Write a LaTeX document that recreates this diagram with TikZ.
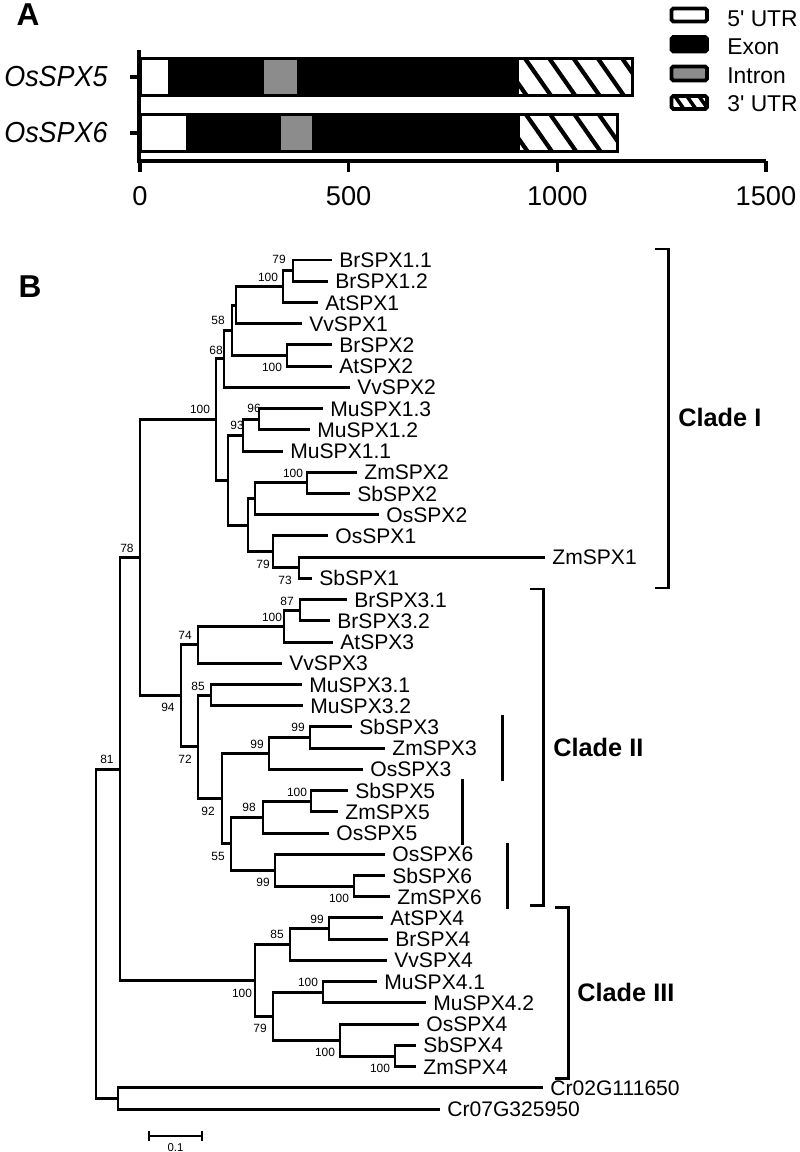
\documentclass[tikz,border=0pt]{standalone}
\usepackage{fontspec}
\setmainfont{Liberation Sans}
\begin{document}
\begin{tikzpicture}[x=0.02cm,y=-0.02cm,
    br/.style={line width=1.7pt},
    ax/.style={line width=1.8pt},
    barbox/.style={line width=1.7pt},
    stripe/.style={line width=2.4pt},
    legbox/.style={line width=2.2pt,rounded corners=1pt},
    leaf/.style={anchor=west,inner xsep=4pt,inner ysep=0pt,text height=8.6pt,text depth=0pt,font=\fontsize{12}{12}\selectfont},
    boot/.style={inner sep=0pt,font=\fontsize{6.8}{7}\selectfont},
    clade/.style={anchor=west,inner sep=0pt,font=\fontsize{14.4}{15}\selectfont\bfseries},
    panel/.style={inner sep=0pt,font=\fontsize{18}{18}\selectfont\bfseries},
    tick/.style={inner sep=0pt,font=\fontsize{15.5}{16}\selectfont},
    gene/.style={anchor=east,inner sep=0pt,xscale=0.93,font=\fontsize{16.5}{17}\selectfont\itshape},
    leg/.style={anchor=west,inner sep=0pt,font=\fontsize{13}{13}\selectfont}]
\useasboundingbox (0,0) rectangle (800,1152);

% panel A: gene structure
\node[panel] (pA) at (28,15) {A};
\draw[ax] (139,50) -- (139,161) -- (766,161);
\foreach \v in {0,500,1000,1500} {
    \draw[ax] ({140+0.4173*\v},161) -- ++(0,11);
    \node[tick] (t\v) at ({140+0.4173*\v},196) {\v};
}
\draw[ax] (130,77) -- (139,77);
\draw[ax] (130,133) -- (139,133);
\node[gene] (g5) at (108,77) {OsSPX5};
\node[gene] (g6) at (108,133) {OsSPX6};

% OsSPX5
\fill[black] (141,58.5) rectangle (632,95.5);
\fill[white] (141,58.5) rectangle (168,95.5);
\fill[black!45] (264,58.5) rectangle (297,95.5);
\begin{scope}
    \clip (519,58.5) rectangle (632,95.5);
    \fill[white] (519,58.5) rectangle (632,95.5);
    \foreach \s in {-1,...,5}
        \draw[stripe] ({525+24.3*\s},58.5) ++(-7,-10) -- ++(35,50);
\end{scope}
\draw[barbox] (141,58.5) rectangle (632,95.5);

% OsSPX6
\fill[black] (141,114.5) rectangle (617,151.5);
\fill[white] (141,114.5) rectangle (186,151.5);
\fill[black!45] (281,114.5) rectangle (312,151.5);
\begin{scope}
    \clip (520,114.5) rectangle (617,151.5);
    \fill[white] (520,114.5) rectangle (617,151.5);
    \foreach \s in {-1,...,4}
        \draw[stripe] ({526+24.3*\s},114.5) ++(-7,-10) -- ++(35,50);
\end{scope}
\draw[barbox] (141,114.5) rectangle (617,151.5);

% legend
\draw[legbox,fill=white] (671.5,8.5) rectangle (707,21.5);
\draw[legbox,fill=black] (671.5,37) rectangle (707,51.5);
\draw[legbox,fill=black!45] (671.5,66.5) rectangle (707,80.5);
\begin{scope}
    \clip (671.5,96) rectangle (707,109);
    \foreach \s in {0,...,2}
        \draw[line width=2pt] ({676+12*\s},96) ++(-4,-4) -- ++(14,20);
\end{scope}
\draw[legbox] (671.5,96) rectangle (707,109);
\node[leg] (l1) at (727,18.5) {5\textquotesingle{} UTR};
\node[leg] (l2) at (727,47) {Exon};
\node[leg] (l3) at (727,75.5) {Intron};
\node[leg] (l4) at (727,104) {3\textquotesingle{} UTR};

% panel B: tree
\node[panel] (pB) at (30,287) {B};

\foreach \nm/\tip/\lab [count=\i from 0] in {
    br11/332/BrSPX1.1, br12/328/BrSPX1.2, at1/318/AtSPX1, vv1/302/VvSPX1,
    br2/332/BrSPX2, at2/332/AtSPX2, vv2/350/VvSPX2,
    mu13/323/MuSPX1.3, mu12/310/MuSPX1.2, mu11/283/MuSPX1.1,
    zm2/357/ZmSPX2, sb2/350/SbSPX2, os2/379/OsSPX2, os1/328/OsSPX1,
    zm1/545/ZmSPX1, sb1/312/SbSPX1,
    br31/347/BrSPX3.1, br32/330/BrSPX3.2, at3/333/AtSPX3, vv3/282/VvSPX3,
    mu31/302/MuSPX3.1, mu32/303/MuSPX3.2,
    sb3/352/SbSPX3, zm3/385/ZmSPX3, os3/363/OsSPX3,
    sb5/348/SbSPX5, zm5/338/ZmSPX5, os5/329/OsSPX5,
    os6/385/OsSPX6, sb6/385/SbSPX6, zm6/390/ZmSPX6,
    at4/383/AtSPX4, br4/388/BrSPX4, vv4/387/VvSPX4,
    mu41/377/MuSPX4.1, mu42/426/MuSPX4.2,
    os4/419/OsSPX4, sb4/416/SbSPX4, zm4/416/ZmSPX4,
    cr2/543/Cr02G111650, cr7/440/Cr07G325950}
    \node[leaf] (\nm) at (\tip,{260+21.225*\i}) {\lab};

% internal nodes, clade I
\coordinate (n1) at (293,270.6);
\coordinate (n2) at (283,286.6);
\coordinate (n3) at (236,305.1);
\coordinate (n4) at (287,355.5);
\coordinate (n5) at (232,330.3);
\coordinate (n6) at (224,358.9);
\coordinate (n7) at (259,419.2);
\coordinate (n8) at (243,435.1);
\coordinate (n9) at (307,482.9);
\coordinate (n10) at (255,498.8);
\coordinate (n11) at (299,567.8);
\coordinate (n12) at (273,551.9);
\coordinate (n13) at (248,525.4);
\coordinate (n14) at (228,480.3);
\coordinate (n15) at (216,419.6);
% clade II
\coordinate (m1) at (300,610.2);
\coordinate (m2) at (284,626.2);
\coordinate (m3) at (198,644.8);
\coordinate (m4) at (211,695.1);
\coordinate (m5) at (310,737.6);
\coordinate (m6) at (269,753.5);
\coordinate (m7) at (311,801.3);
\coordinate (m8) at (263,817.2);
\coordinate (m9) at (354,886.2);
\coordinate (m10) at (275,870.3);
\coordinate (m11) at (231,843.8);
\coordinate (m12) at (222,798.7);
\coordinate (m13) at (198,746.9);
\coordinate (m14) at (181,695.9);
% clade III
\coordinate (k1) at (329,928.6);
\coordinate (k2) at (290,944.5);
\coordinate (k3) at (323,992.3);
\coordinate (k4) at (395,1056.0);
\coordinate (k5) at (340,1040.1);
\coordinate (k6) at (273,1016.2);
\coordinate (k7) at (255,980.4);
% backbone
\coordinate (c78) at (140,557.8);
\coordinate (c81) at (120,769.1);
\coordinate (og) at (118,1098.4);
\coordinate (root) at (96,933.8);

\foreach \p/\c in {n1/br11, n1/br12, n2/n1, n2/at1, n3/n2, n3/vv1,
    n4/br2, n4/at2, n5/n3, n5/n4, n6/n5, n6/vv2,
    n7/mu13, n7/mu12, n8/n7, n8/mu11, n9/zm2, n9/sb2, n10/n9, n10/os2,
    n11/zm1, n11/sb1, n12/os1, n12/n11, n13/n10, n13/n12,
    n14/n8, n14/n13, n15/n6, n15/n14,
    m1/br31, m1/br32, m2/m1, m2/at3, m3/m2, m3/vv3, m4/mu31, m4/mu32,
    m5/sb3, m5/zm3, m6/m5, m6/os3, m7/sb5, m7/zm5, m8/m7, m8/os5,
    m9/sb6, m9/zm6, m10/os6, m10/m9, m11/m8, m11/m10, m12/m6, m12/m11,
    m13/m4, m13/m12, m14/m3, m14/m13,
    k1/at4, k1/br4, k2/k1, k2/vv4, k3/mu41, k3/mu42, k4/sb4, k4/zm4,
    k5/os4, k5/k4, k6/k3, k6/k5, k7/k2, k7/k6,
    c78/n15, c78/m14, c81/c78, c81/k7, og/cr2, og/cr7, root/c81, root/og}
    \draw[br] (\p) |- (\c);

% bootstrap values
\foreach \x/\y/\v [count=\j] in {
    279/259/79, 268/277/100, 218/320/58, 272/367/100, 216/350/68,
    200/409/100, 254/408/96, 237/425/93, 293/473/100, 263/564/79,
    285/580/73, 127/548/78,
    287/601/87, 272/617/100, 185/635/74, 168/707/94, 198/686/85,
    298/727/99, 257/744/99, 185/759/72, 297/792/100, 249/807/98,
    208/811/92, 218/856/55, 263/882/99, 339/898/100, 107/759/81,
    317/919/99, 277/934/85, 242/993/100, 308/982/100, 260/1028/79,
    325/1052/100, 380/1068/100}
    \node[boot] (bs\j) at (\x,\y) {\v};

% clade brackets
\draw[br] (655,249) -| (668,588) -- (655,588);
\draw[br] (530,589) -| (543,905) -- (530,905);
\draw[br] (555,907) -| (568,1078) -- (555,1078);
\draw[br] (502,715) -- (502,781);
\draw[br] (462,779) -- (462,845);
\draw[br] (507,843) -- (507,909);
\node[clade] (cI) at (678,417) {Clade I};
\node[clade] (cII) at (553,747) {Clade II};
\node[clade] (cIII) at (577,992) {Clade III};

% scale bar
\draw[line width=0.7pt] (149,1131) -- (149,1141) (149,1136) -- (202,1136) (202,1131) -- (202,1141);
\node[boot,font=\fontsize{6.5}{7}\selectfont] (sc) at (175.5,1148) {0.1};
\end{tikzpicture}
\end{document}
